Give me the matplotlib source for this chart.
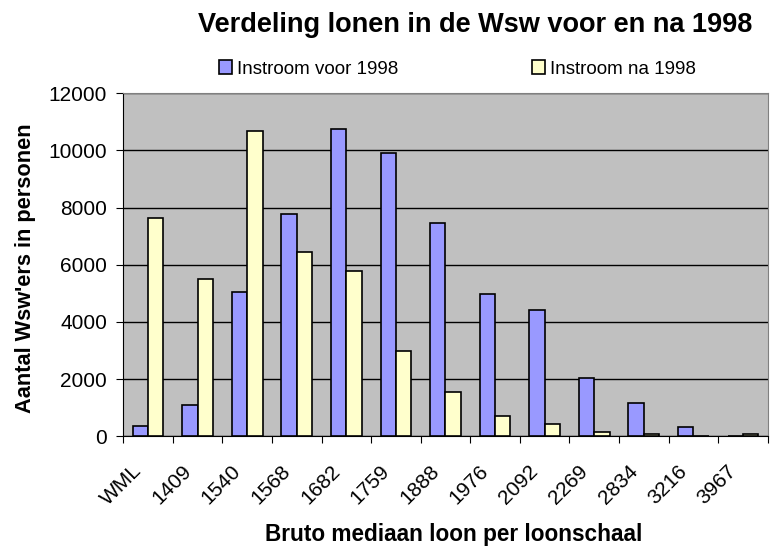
import numpy as np
import matplotlib
matplotlib.use('Agg')
import matplotlib.pyplot as plt
import matplotlib.transforms as mtransforms

plt.rcParams['font.family'] = ['Liberation Sans', 'DejaVu Sans']

# Data
categories = ['WML', '1409', '1540', '1568', '1682', '1759', '1888',
              '1976', '2092', '2269', '2834', '3216', '3967']
voor_1998 = [360, 1085, 5030, 7760, 10730, 9900, 7460, 4960, 4420, 2030, 1150, 315, 0]
na_1998 = [7650, 5490, 10680, 6440, 5790, 2990, 1560, 720, 430, 140, 80, 0, 60]

x = np.arange(len(categories))
w = 0.31

fig = plt.figure(figsize=(7.7, 5.48), dpi=100)
ax = fig.add_axes([0.160, 0.204, 0.837, 0.626])
ax.set_facecolor('#C0C0C0')

ax.bar(x - w / 2, voor_1998, w, color='#9999FF', edgecolor='black', linewidth=1.2,
       label='Instroom voor 1998', zorder=3)
ax.bar(x + w / 2, na_1998, w, color='#FFFFCC', edgecolor='black', linewidth=1.2,
       label='Instroom na 1998', zorder=3)

ax.set_xlim(-0.5, len(categories) - 0.5)
ax.set_ylim(0, 12000)
ax.set_yticks(np.arange(0, 12001, 2000))
ax.yaxis.grid(True, color='black', linewidth=1)
ax.set_axisbelow(True)

# tick marks between categories, labels at the centres
ax.set_xticks(np.arange(-0.5, len(categories), 1))
ax.set_xticklabels([])
ax.set_xticks(x, minor=True)
ax.set_xticklabels(categories, minor=True, rotation=45, ha='right',
                   rotation_mode='anchor', fontsize=15)
ax.tick_params(axis='x', which='minor', length=0, pad=18)
ax.tick_params(axis='x', which='major', length=5, color='black')
ax.tick_params(axis='y', labelsize=15, length=5, pad=6.5)
offset = mtransforms.ScaledTranslation(-16 / 100, 0, fig.dpi_scale_trans)
for lab in ax.xaxis.get_minorticklabels():
    lab.set_transform(lab.get_transform() + offset)

for side in ['top', 'right']:
    ax.spines[side].set_color('#808080')
ax.spines['left'].set_color('black')
ax.spines['bottom'].set_color('black')

ax.set_ylabel("Aantal Wsw'ers in personen", fontsize=15.7, fontweight='bold')
ax.yaxis.set_label_coords(-0.136, 0.49)

fig.text(0.589, 0.012, 'Bruto mediaan loon per loonschaal', fontsize=16.3,
         fontweight='bold', ha='center', va='baseline')
fig.text(0.6175, 0.9416, 'Verdeling lonen in de Wsw voor en na 1998', fontsize=19.5,
         fontweight='bold', ha='center', va='baseline')
fig.legend(loc='center', bbox_to_anchor=(0.594, 0.874), ncol=2, frameon=False,
           fontsize=13.5, handlelength=0.7, handleheight=0.7, handletextpad=0.3,
           columnspacing=7.1)

fig.savefig('out.png', dpi=100)
